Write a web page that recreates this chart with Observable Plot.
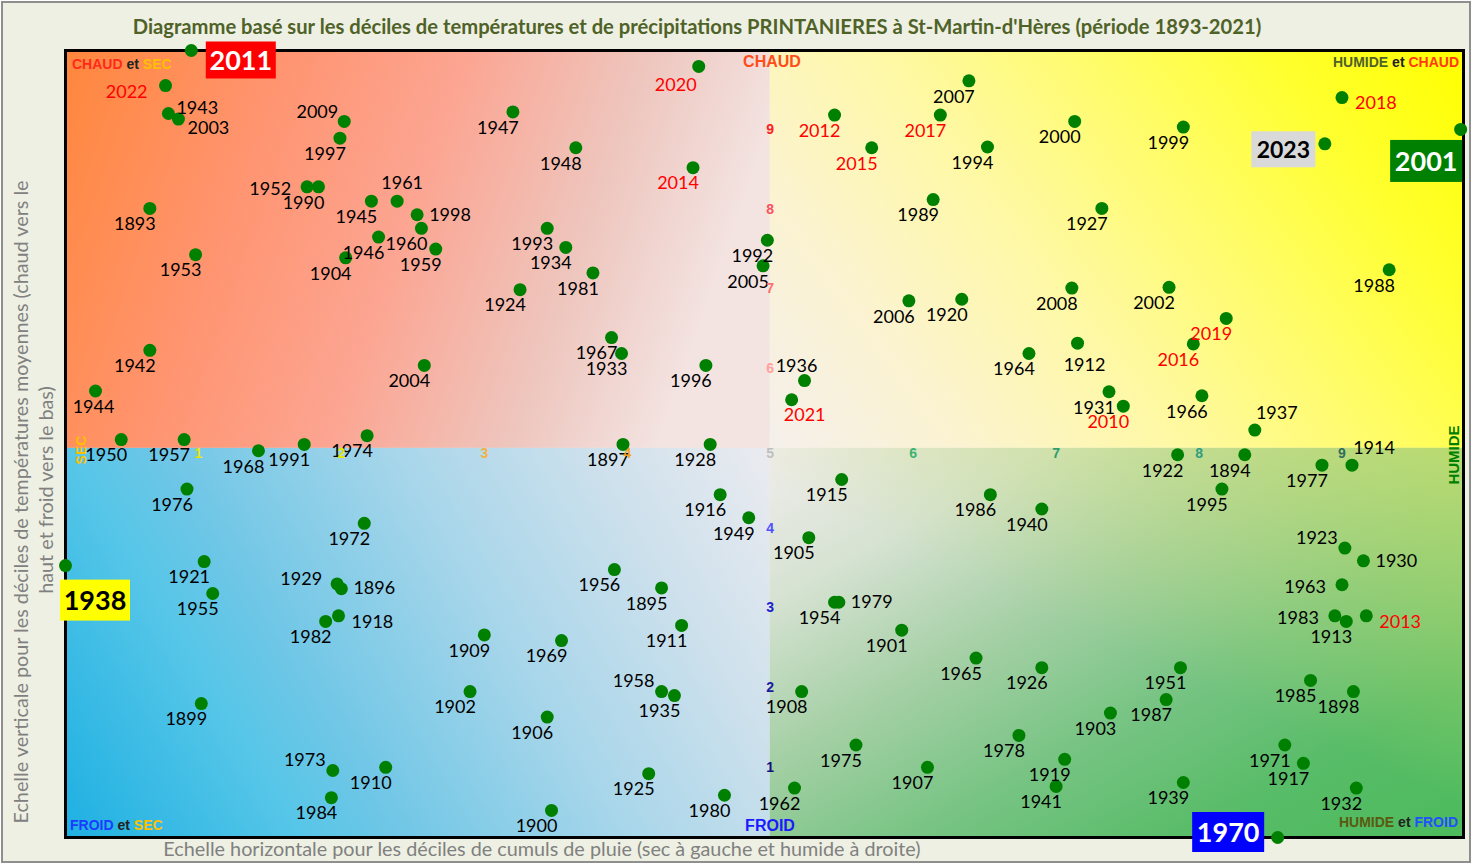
<!DOCTYPE html>
<html><head><meta charset="utf-8">
<script src="https://cdn.jsdelivr.net/npm/d3@7"></script>
<script src="https://cdn.jsdelivr.net/npm/@observablehq/plot@0.6"></script>
<style>
body{margin:0;background:#fff;}
#wrap{position:relative;width:1475px;height:865px;overflow:hidden;}
#bg{position:absolute;left:1px;top:1px;width:1470px;height:862px;box-sizing:border-box;border:2px solid #8f8f8f;background:#eef0e3;}
#chart{position:absolute;left:0;top:0;}
.t{position:absolute;white-space:nowrap;transform:translate(-50%,-50%);}
.title{font-family:Lato,sans-serif;font-weight:bold;font-size:20.2px;color:#4f6228;}
.axt{font-family:Lato,sans-serif;font-size:19.8px;color:#808080;}
.corner{position:absolute;white-space:nowrap;font-family:"Liberation Sans",Arial,sans-serif;font-weight:bold;font-size:14px;transform:translateY(-50%);}
.mid{font-family:"Liberation Sans",Arial,sans-serif;font-weight:bold;font-size:16px;}
</style></head>
<body>
<div id="wrap">
  <div id="bg"></div>
  <div id="chart"></div>
  <div class="t title" style="left:697px;top:26px;">Diagramme basé sur les déciles de températures et de précipitations PRINTANIERES à St-Martin-d'Hères (période 1893-2021)</div>
  <div class="t axt" style="left:542px;top:848px;">Echelle horizontale pour les déciles de cumuls de pluie (sec à gauche et humide à droite)</div>
  <div class="t axt" style="left:20px;top:502px;transform:translate(-50%,-50%) rotate(-90deg);">Echelle verticale pour les déciles de températures moyennes (chaud vers le</div>
  <div class="t axt" style="left:45px;top:490px;transform:translate(-50%,-50%) rotate(-90deg);">haut et froid vers le bas)</div>
  <div class="corner" style="left:72px;top:64px;"><span style="color:#ff2a1a">CHAUD</span> <span style="color:#222">et</span> <span style="color:#ffc000">SEC</span></div>
  <div class="corner" style="right:16px;top:62px;"><span style="color:#4f6228">HUMIDE</span> <span style="color:#222">et</span> <span style="color:#ff3a10">CHAUD</span></div>
  <div class="corner" style="left:70px;top:825px;"><span style="color:#1a3cff">FROID</span> <span style="color:#222">et</span> <span style="color:#ffc000">SEC</span></div>
  <div class="corner" style="right:17px;top:822px;"><span style="color:#5a5a10">HUMIDE</span> <span style="color:#222">et</span> <span style="color:#2050ff">FROID</span></div>
  <div class="t mid" style="left:772px;top:62px;color:#ff4d1a;">CHAUD</div>
  <div class="t mid" style="left:770px;top:826px;color:#1a1aff;">FROID</div>
  <div class="t mid" style="left:81px;top:450px;color:#ffc000;font-size:14px;transform:translate(-50%,-50%) rotate(-90deg);">SEC</div>
  <div class="t mid" style="left:1453px;top:455px;color:#008000;font-size:15px;transform:translate(-50%,-50%) rotate(-90deg);">HUMIDE</div>
</div>
<script>
// ---------- DATA ----------
const years = [1893,1894,1895,1896,1897,1898,1899,1900,1901,1902,1903,1904,1905,1906,1907,1908,1909,1910,1911,1912,1913,1914,1915,1916,1917,1918,1919,1920,1921,1922,1923,1924,1925,1926,1927,1928,1929,1930,1931,1932,1933,1934,1935,1936,1937,1938,1939,1940,1941,1942,1943,1944,1945,1946,1947,1948,1949,1950,1951,1952,1953,1954,1955,1956,1957,1958,1959,1960,1961,1962,1963,1964,1965,1966,1967,1968,1969,1970,1971,1972,1973,1974,1975,1976,1977,1978,1979,1980,1981,1982,1983,1984,1985,1986,1987,1988,1989,1990,1991,1992,1993,1994,1995,1996,1997,1998,1999,2000,2001,2002,2003,2004,2005,2006,2007,2008,2009,2010,2011,2012,2013,2014,2015,2016,2017,2018,2019,2020,2021,2022,2023];
// rain decile (dry 0 -> wet 10)
const rainDecile = [0.66,8.32,4.24,2.00,3.97,9.08,1.02,3.47,5.92,2.90,7.38,2.03,5.27,3.44,6.10,5.22,3.00,2.31,4.38,7.15,9.03,9.07,5.50,4.65,8.73,1.98,7.06,6.34,1.04,7.85,9.02,3.25,4.15,6.90,7.32,4.58,1.97,9.15,7.37,9.10,3.96,3.57,4.33,5.24,8.39,0.07,7.89,6.90,7.00,0.66,0.79,0.28,2.21,2.26,3.20,3.64,4.85,0.46,7.87,1.76,0.98,5.45,1.10,3.91,0.90,4.24,2.66,2.56,2.39,5.17,9.00,6.81,6.44,8.02,3.89,1.42,3.54,8.55,8.60,2.16,1.94,2.18,5.60,0.92,8.86,6.74,5.48,4.68,3.76,1.89,8.95,1.93,8.78,6.54,7.77,9.33,6.14,1.84,1.74,4.98,3.44,6.52,8.16,4.55,1.99,2.53,7.89,7.13,9.83,7.79,0.86,2.58,4.95,5.97,6.39,7.11,2.02,7.47,0.95,5.45,9.17,4.46,5.71,7.96,6.19,9.00,8.19,4.50,5.15,0.77,8.88];
// temperature decile (cold 0 -> hot 10)
const tempDecile = [8.01,4.92,3.25,3.24,5.05,1.95,1.80,0.46,2.72,1.95,1.68,7.39,3.88,1.63,1.00,1.95,2.66,1.00,2.78,6.32,2.83,4.79,4.61,4.42,1.05,2.90,1.10,6.87,3.58,4.92,3.75,6.99,0.92,2.25,8.01,5.05,3.30,3.59,5.71,0.74,6.19,7.52,1.90,5.85,5.23,3.53,0.81,4.24,0.76,6.23,9.20,5.72,8.10,7.65,9.22,8.77,4.13,5.11,2.25,8.28,7.43,3.07,3.18,3.48,5.11,1.95,7.50,7.76,8.10,0.74,3.29,6.19,2.37,5.66,6.39,4.97,2.59,0.12,1.28,4.06,0.96,5.16,1.28,4.49,4.79,1.40,3.07,0.65,7.20,2.83,2.90,0.62,2.09,4.42,1.85,7.24,8.12,8.28,5.05,7.61,7.76,8.78,4.49,6.04,8.89,7.93,9.03,9.10,9.00,7.02,9.13,6.04,7.29,6.85,9.61,7.01,9.10,5.53,9.99,9.18,2.90,8.52,8.77,6.31,9.18,9.40,6.63,9.79,5.61,9.55,8.82];
const recentYears = [2010,2012,2013,2014,2015,2016,2017,2018,2019,2020,2021,2022];
const boxedYears = [2011, 2001, 2023, 1938, 1970];
const boxFill = ["#ff0000", "#008000", "#d9d9d9", "#ffff00", "#0000ff"];
const boxText = ["#ffffff", "#ffffff", "#000000", "#000000", "#ffffff"];
const decileTicks = [1,2,3,4,6,7,8,9];
const rainTickColors = ["#e6e600","#e6e600","#f5b041","#f0a020","#3cb371","#2e9e6e","#2e9e80","#2f6f5f"];
const tempTickColors = ["#101080","#1a1aa0","#2020d0","#5050ff","#ffa0a0","#ff7070","#ff5060","#ff2020"];

// ---------- LAYOUT (label placement, not data) ----------
const labelSide = {2022:"leftLow",1943:"rightHigh",2003:"belowRight",2009:"leftHigh",1952:"left",1961:"above",1998:"right",1936:"aboveLeftNear",2021:"belowRightNear",1944:"below",1912:"belowFar",2018:"rightLow",1937:"aboveRight",1914:"aboveRight",1923:"aboveLeft",1930:"right",1963:"left",1983:"left",2013:"rightLow",1979:"right",1929:"leftHigh2",1896:"right",1918:"rightLow",1973:"aboveLeft",1958:"aboveLeft",2020:"belowLeftFar"};
const placements = {
  belowLeft: {dx:-15, dy:16, textAnchor:"middle"},
  belowLeftFar: {dx:-23, dy:19, textAnchor:"middle"},
  below: {dx:-2, dy:16, textAnchor:"middle"},
  belowFar: {dx:7, dy:22, textAnchor:"middle"},
  belowRight: {dx:30, dy:9, textAnchor:"middle"},
  belowRightNear: {dx:13, dy:15, textAnchor:"middle"},
  right: {dx:12, dy:0, textAnchor:"start"},
  rightHigh: {dx:8, dy:-5, textAnchor:"start"},
  rightLow: {dx:13, dy:6, textAnchor:"start"},
  left: {dx:-16, dy:2, textAnchor:"end"},
  leftLow: {dx:-18, dy:7, textAnchor:"end"},
  leftHigh: {dx:-6, dy:-9, textAnchor:"end"},
  leftHigh2: {dx:-15, dy:-5, textAnchor:"end"},
  above: {dx:5, dy:-18, textAnchor:"middle"},
  aboveLeftNear: {dx:-8, dy:-14, textAnchor:"middle"},
  aboveRight: {dx:22, dy:-17, textAnchor:"middle"},
  aboveLeft: {dx:-28, dy:-10, textAnchor:"middle"}
};
const boxLayout = {2011:{dx:50,dy:10,w:70,h:37,fs:27}, 2001:{dx:-34,dy:32,w:72,h:42,fs:27}, 2023:{dx:-41,dy:6,w:64,h:36,fs:23}, 1938:{dx:30,dy:35,w:70,h:41,fs:27}, 1970:{dx:-49,dy:-5,w:72,h:40,fs:27}};

// ---------- BUILD ----------
const xDomain = [0.07, 9.85];
const yDomain = [0.12, 9.99];
const points = years.map((y, i) => ({
  year: y, rain: rainDecile[i], temp: tempDecile[i],
  color: recentYears.includes(y) ? "#ff0000" : "#000000",
  side: labelSide[y] || "belowLeft"
}));
const labelled = points.filter(d => !boxedYears.includes(d.year));
const specials = boxedYears.map((y, i) => ({...points.find(p => p.year === y), fill: boxFill[i], ink: boxText[i]}));

const quadrants = [
  {id:"gTL", x1:xDomain[0], x2:5, y1:5, y2:yDomain[1]},
  {id:"gTR", x1:5, x2:xDomain[1], y1:5, y2:yDomain[1]},
  {id:"gBL", x1:xDomain[0], x2:5, y1:yDomain[0], y2:5},
  {id:"gBR", x1:5, x2:xDomain[1], y1:yDomain[0], y2:5},
  {id:"gBR2", x1:5, x2:xDomain[1], y1:yDomain[0], y2:5}
];

function gradientDefs() {
  const defs = d3.create("svg:defs");
  const add = (id, x1, y1, x2, y2, stops) => {
    const g = defs.append("linearGradient").attr("id", id)
      .attr("x1", x1).attr("y1", y1).attr("x2", x2).attr("y2", y2);
    for (const [o, c, a] of stops) g.append("stop").attr("offset", o).attr("stop-color", c).attr("stop-opacity", a ?? 1);
  };
  add("gTL", 0, 0, 1, 0.2, [[0,"#ff873c"],[0.3,"#ff9470"],[0.55,"#fca592"],[0.8,"#eec6be"],[1,"#f3e3e1"]]);
  add("gTR", 0, 1, 1.207, 0.483, [[0,"#f5efec"],[0.2,"#fbf3d0"],[0.4,"#fef8a8"],[0.6,"#fffc70"],[0.8,"#ffff30"],[1,"#ffff00"]]);
  add("gBL", 0, 1, 1.2, 0.6, [[0,"#1eb0e2"],[0.25,"#56c6e8"],[0.35,"#6ec6e6"],[0.6,"#a8d6ea"],[0.8,"#cce0ec"],[1,"#ebebf0"]]);
  add("gBR", 0, 0, 1, 1, [[0,"#f0edec"],[0.2,"#d6e2d2"],[0.4,"#a6d0a6"],[0.6,"#78c484"],[0.8,"#58bc68"],[1,"#4cbb5c"]]);
  add("gBR2", 1, 0, 0.55, 0.55, [[0,"#c8e064",0.75],[1,"#c8e064",0]]);
  return defs.node();
}

function boxes(index, scales) {
  const g = d3.create("svg:g");
  for (const d of specials) {
    const L = boxLayout[d.year];
    const cx = scales.x(d.rain) + L.dx, cy = scales.y(d.temp) + L.dy;
    g.append("rect").attr("x", cx - L.w/2).attr("y", cy - L.h/2).attr("width", L.w).attr("height", L.h).attr("fill", d.fill);
    g.append("text").attr("x", cx).attr("y", cy).attr("dy", "0.36em").attr("text-anchor", "middle")
      .attr("font-family", "Lato, sans-serif").attr("font-weight", "bold").attr("font-size", L.fs)
      .attr("fill", d.ink).text(d.year);
  }
  return g.node();
}

const labelMarks = Object.entries(placements).map(([side, p]) =>
  Plot.text(labelled.filter(d => d.side === side), {
    x: "rain", y: "temp", text: d => String(d.year), fill: "color",
    dx: p.dx, dy: p.dy, textAnchor: p.textAnchor,
    fontFamily: "Lato, sans-serif", fontSize: 18
  })
);

const tickFont = {fontFamily: "Liberation Sans, Arial, sans-serif", fontWeight: "bold", fontSize: 14};

const chart = Plot.plot({
  width: 1475, height: 865,
  marginLeft: 65, marginRight: 12, marginTop: 50, marginBottom: 28,
  x: {domain: xDomain, axis: null},
  y: {domain: yDomain, axis: null},
  color: {type: "identity"},
  style: {background: "transparent", overflow: "visible"},
  marks: [
    gradientDefs,
    ...quadrants.map(q => Plot.rect([q], {x1: "x1", x2: "x2", y1: "y1", y2: "y2", fill: `url(#${q.id})`})),
    Plot.frame({stroke: "black", strokeWidth: 3}),
    Plot.dot(points, {x: "rain", y: "temp", r: 6.5, fill: "#008000"}),
    ...labelMarks,
    boxes,
    Plot.text(decileTicks, {x: d => d, y: () => 5, text: d => String(d), fill: (d, i) => rainTickColors[i], dy: 5, ...tickFont}),
    Plot.text(decileTicks, {x: () => 5, y: d => d, text: d => String(d), fill: (d, i) => tempTickColors[i], ...tickFont}),
    Plot.text([5], {x: () => 5, y: () => 5, text: d => String(d), fill: "#bfbfbf", dy: 5, ...tickFont})
  ]
});
document.getElementById("chart").appendChild(chart);
</script>
</body></html>
